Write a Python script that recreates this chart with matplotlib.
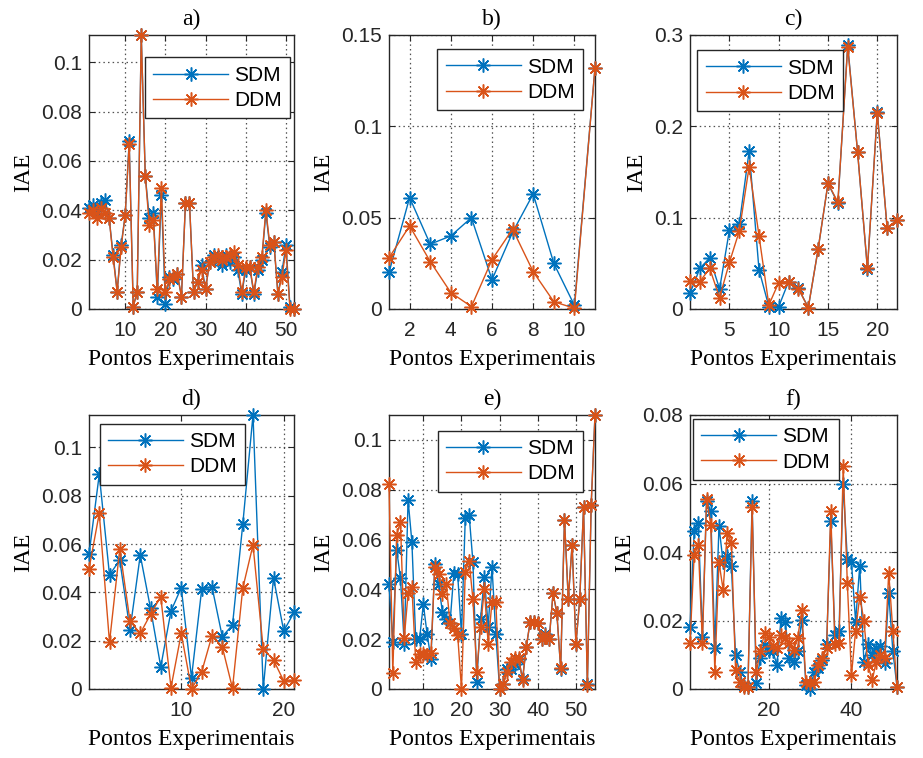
import matplotlib
matplotlib.use('Agg')
import matplotlib.pyplot as plt
from matplotlib.ticker import FuncFormatter
import numpy as np

# ---------------- data ----------------
sdm_a = [0.041, 0.042, 0.039, 0.043, 0.044, 0.037, 0.022, 0.007, 0.026, 0.038,
         0.068, 0.001, 0.007, 0.111, 0.054, 0.037, 0.039, 0.005, 0.046, 0.002,
         0.013, 0.012, 0.014, 0.005, 0.043, 0.043, 0.007, 0.011, 0.018, 0.008,
         0.019, 0.022, 0.020, 0.018, 0.022, 0.019, 0.021, 0.016, 0.006, 0.016,
         0.017, 0.006, 0.016, 0.020, 0.039, 0.025, 0.027, 0.006, 0.015, 0.026,
         0.001, 0.000]
ddm_a = [0.039, 0.040, 0.037, 0.041, 0.039, 0.037, 0.021, 0.007, 0.025, 0.038,
         0.067, 0.001, 0.007, 0.111, 0.054, 0.034, 0.036, 0.008, 0.049, 0.007,
         0.012, 0.013, 0.014, 0.005, 0.043, 0.043, 0.007, 0.011, 0.016, 0.008,
         0.019, 0.021, 0.022, 0.020, 0.021, 0.022, 0.023, 0.018, 0.007, 0.017,
         0.017, 0.007, 0.017, 0.021, 0.040, 0.026, 0.027, 0.006, 0.013, 0.024,
         0.000, 0.000]

sdm_b = [0.020, 0.061, 0.0355, 0.040, 0.050, 0.016, 0.042, 0.063, 0.025, 0.002, 0.132]
ddm_b = [0.028, 0.0455, 0.026, 0.009, 0.0013, 0.027, 0.0437, 0.0204, 0.004, 0.0004, 0.132]

sdm_c = [0.017, 0.0445, 0.056, 0.022, 0.0865, 0.093, 0.173, 0.043, 0.0026, 0.0026,
         0.030, 0.0226, 0.0015, 0.0657, 0.1376, 0.1157, 0.289, 0.172, 0.0438, 0.216,
         0.0883, 0.0974]
ddm_c = [0.0307, 0.030, 0.0445, 0.0124, 0.051, 0.0854, 0.1558, 0.0803, 0.0044, 0.029,
         0.030, 0.022, 0.0015, 0.0657, 0.1376, 0.117, 0.287, 0.172, 0.0445, 0.215,
         0.089, 0.0974]

sdm_d = [0.0557, 0.0888, 0.0472, 0.0534, 0.0244, 0.0554, 0.0334, 0.0092, 0.0323, 0.0419,
         0.0047, 0.0414, 0.0423, 0.0217, 0.0265, 0.0681, 0.1134, 0.0, 0.046, 0.024,
         0.0317]
ddm_d = [0.0497, 0.0727, 0.0193, 0.0579, 0.0281, 0.023, 0.0309, 0.0382, 0.0006, 0.023,
         0.0, 0.0072, 0.0221, 0.0175, 0.0003, 0.0417, 0.0596, 0.0166, 0.012, 0.0033,
         0.0037]

sdm_e = [0.042, 0.019, 0.056, 0.0445, 0.018, 0.076, 0.059, 0.020, 0.020, 0.034,
         0.022, 0.012, 0.050, 0.042, 0.031, 0.028, 0.0265, 0.0466, 0.046, 0.022,
         0.0687, 0.070, 0.051, 0.003, 0.028, 0.045, 0.025, 0.049, 0.022, 0.0,
         0.002, 0.008, 0.008, 0.010, 0.012, 0.004, 0.017, 0.027, 0.027, 0.0265,
         0.020, 0.022, 0.020, 0.0385, 0.0305, 0.008, 0.068, 0.036, 0.058, 0.018,
         0.036, 0.073, 0.002, 0.074, 0.110]
ddm_e = [0.0824, 0.0063, 0.062, 0.067, 0.0204, 0.0385, 0.041, 0.011, 0.014, 0.014,
         0.0137, 0.0144, 0.049, 0.046, 0.038, 0.042, 0.0265, 0.0244, 0.0217, 0.0,
         0.047, 0.0515, 0.036, 0.007, 0.025, 0.040, 0.018, 0.035, 0.035, 0.0,
         0.002, 0.007, 0.011, 0.0124, 0.0124, 0.0036, 0.017, 0.027, 0.027, 0.0265,
         0.020, 0.0217, 0.020, 0.0385, 0.0305, 0.0083, 0.068, 0.036, 0.058, 0.018,
         0.036, 0.073, 0.0016, 0.074, 0.110]

sdm_f = [0.018, 0.046, 0.0485, 0.0153, 0.055, 0.052, 0.0121, 0.0475, 0.037, 0.0387,
         0.0358, 0.010, 0.005, 0.001, 0.0007, 0.055, 0.0017, 0.009, 0.0129, 0.011,
         0.011, 0.007, 0.0207, 0.0197, 0.009, 0.008, 0.011, 0.0202, 0.0012, 0.0,
         0.005, 0.006, 0.0085, 0.013, 0.049, 0.0158, 0.017, 0.060, 0.038, 0.037,
         0.0197, 0.036, 0.008, 0.013, 0.010, 0.012, 0.0125, 0.0075, 0.028, 0.011,
         0.0006]
ddm_f = [0.0134, 0.039, 0.042, 0.0134, 0.0555, 0.048, 0.005, 0.037, 0.029, 0.0456,
         0.0426, 0.0056, 0.002, 0.0007, 0.0007, 0.053, 0.005, 0.011, 0.0163, 0.0153,
         0.0125, 0.012, 0.0158, 0.015, 0.0134, 0.0114, 0.0148, 0.0231, 0.002, 0.0017,
         0.002, 0.007, 0.009, 0.012, 0.052, 0.013, 0.0134, 0.065, 0.031, 0.004,
         0.017, 0.027, 0.020, 0.007, 0.0025, 0.008, 0.010, 0.009, 0.034, 0.017,
         0.0006]

titles = ['a)', 'b)', 'c)', 'd)', 'e)', 'f)']
series_names = ['SDM', 'DDM']
xlabel_text = 'Pontos Experimentais'
ylabel_text = 'IAE'

xticks_a = [10, 20, 30, 40, 50]
xticks_b = [2, 4, 6, 8, 10]
xticks_c = [5, 10, 15, 20]
xticks_d = [10, 20]
xticks_e = [10, 20, 30, 40, 50]
xticks_f = [20, 40]

yticks_a = [0, 0.02, 0.04, 0.06, 0.08, 0.1]
yticks_b = [0, 0.05, 0.1, 0.15]
yticks_c = [0, 0.1, 0.2, 0.3]
yticks_d = [0, 0.02, 0.04, 0.06, 0.08, 0.1]
yticks_e = [0, 0.02, 0.04, 0.06, 0.08, 0.1]
yticks_f = [0, 0.02, 0.04, 0.06, 0.08]

# ---------------- style ----------------
BLUE = '#0072BD'
ORANGE = '#D95319'
DARK = '#262626'
SERIF = ['Liberation Serif', 'DejaVu Serif']
SANS = ['Liberation Sans', 'DejaVu Sans']
ASTERISK = (8, 2, 0)

W, H = 923, 758
fig = plt.figure(figsize=(W / 100, H / 100), dpi=100)

def px_rect(l, t, r, b):
    return [l / W, 1 - b / H, (r - l) / W, (b - t) / H]

col_lr = [(89, 294), (389, 595), (690, 897)]
row_tb = [(35, 309), (415, 689)]

panels = [
    (sdm_a, ddm_a, xticks_a, yticks_a, None, (0.272, 0.918)),
    (sdm_b, ddm_b, xticks_b, yticks_b, 0.15, (0.235, 0.948)),
    (sdm_c, ddm_c, xticks_c, yticks_c, 0.3, (0.036, 0.944)),
    (sdm_d, ddm_d, xticks_d, yticks_d, None, (0.052, 0.968)),
    (sdm_e, ddm_e, xticks_e, yticks_e, None, (0.236, 0.942)),
    (sdm_f, ddm_f, xticks_f, yticks_f, 0.08, (0.014, 0.985)),
]

fmt = FuncFormatter(lambda v, p: '%g' % round(v, 6))

for i, (sdm, ddm, xt, yt, ytop, legpos) in enumerate(panels):
    r, c = divmod(i, 3)
    l, rr = col_lr[c]
    t, b = row_tb[r]
    ax = fig.add_axes(px_rect(l, t, rr, b))
    x = np.arange(1, len(sdm) + 1)
    ax.plot(x, sdm, color=BLUE, lw=1.0, marker=ASTERISK, ms=10, mew=1.1,
            label=series_names[0], clip_on=False, zorder=3)
    ax.plot(x, ddm, color=ORANGE, lw=1.0, marker=ASTERISK, ms=10, mew=1.1,
            label=series_names[1], clip_on=False, zorder=3)
    ax.set_xlim(1, len(sdm))
    top = ytop if ytop is not None else max(max(sdm), max(ddm))
    ax.set_ylim(0, top)
    ax.set_xticks(xt)
    ax.set_yticks(yt)
    ax.yaxis.set_major_formatter(fmt)
    ax.grid(True, color=DARK, linestyle=(0, (1.2, 2.5)), linewidth=0.9, alpha=0.8)
    ax.tick_params(direction='in', length=4, width=0.8, top=True, right=True,
                   labelsize=15, colors=DARK)
    ax.tick_params(axis='x', pad=9)
    ax.tick_params(axis='y', pad=5)
    for lab in ax.get_xticklabels() + ax.get_yticklabels():
        lab.set_family(SANS)
    for sp in ax.spines.values():
        sp.set_color(DARK)
        sp.set_linewidth(1.0)
    ax.set_title(titles[i], family=SERIF, fontsize=17, color='black', pad=7.5)
    ax.set_xlabel(xlabel_text, family=SERIF, fontsize=17, color='black', labelpad=6)
    ax.set_ylabel(ylabel_text, family=SERIF, fontsize=17, color='black', labelpad=5)
    leg = ax.legend(loc='upper left', bbox_to_anchor=legpos, borderaxespad=0,
                    prop={'family': SANS, 'size': 15}, handlelength=3.6,
                    handletextpad=0.3, borderpad=0.4, labelspacing=0.3,
                    fancybox=False, framealpha=1, edgecolor=DARK)
    leg.get_frame().set_linewidth(1.0)
    leg.set_zorder(5)

fig.savefig('out.png', dpi=100)
